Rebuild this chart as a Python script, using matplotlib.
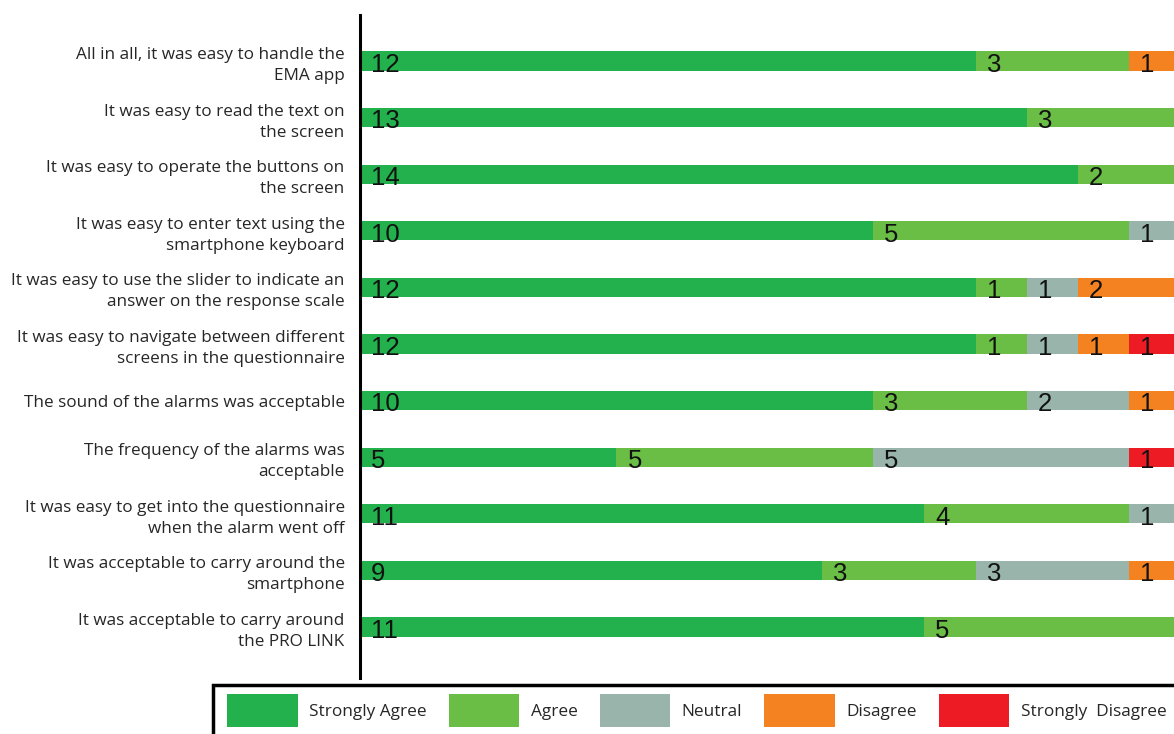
import numpy as np
import matplotlib.pyplot as plt
from matplotlib.patches import Patch, Rectangle

questions = [
    'All in all, it was easy to handle the\nEMA app',
    'It was easy to read the text on\nthe screen',
    'It was easy to operate the buttons on\nthe screen',
    'It was easy to enter text using the\nsmartphone keyboard',
    'It was easy to use the slider to indicate an\nanswer on the response scale',
    'It was easy to navigate between different\nscreens in the questionnaire',
    'The sound of the alarms was acceptable',
    'The frequency of the alarms was\nacceptable',
    'It was easy to get into the questionnaire\nwhen the alarm went off',
    'It was acceptable to carry around the\nsmartphone',
    'It was acceptable to carry around\nthe PRO LINK',
]

categories = ['Strongly Agree', 'Agree', 'Neutral', 'Disagree', 'Strongly  Disagree']
strongly_agree = [12, 13, 14, 10, 12, 12, 10, 5, 11, 9, 11]
agree = [3, 3, 2, 5, 1, 1, 3, 5, 4, 3, 5]
neutral = [0, 0, 0, 1, 1, 1, 2, 5, 1, 3, 0]
disagree = [1, 0, 0, 0, 2, 1, 1, 0, 0, 1, 0]
strongly_disagree = [0, 0, 0, 0, 0, 1, 0, 1, 0, 0, 0]

colors = ['#22b14c', '#6abd45', '#98b4ab', '#f58220', '#ed1c24']

series = [strongly_agree, agree, neutral, disagree, strongly_disagree]

fig = plt.figure(figsize=(11.74, 7.34), dpi=100)
ax = fig.add_axes([360 / 1174, 1 - 678 / 734, 1 - 360 / 1174, 663 / 734])

y = np.arange(len(questions))
left = np.zeros(len(questions))
for vals, col in zip(series, colors):
    vals = np.array(vals)
    ax.barh(y, vals, left=left, height=0.34, color=col, linewidth=0)
    for yi, l, v in zip(y, left, vals):
        if v > 0:
            ax.annotate(str(v), (l, yi), xytext=(8, -7.8), textcoords='offset points',
                        va='baseline', ha='left', fontsize=18.5,
                        family='Liberation Sans', color='#111111')
    left = left + vals

ax.set_xlim(0, 15.87)
ax.set_ylim(10.9, -0.813)
ax.set_yticks(y)
ax.set_yticklabels(questions, family='Open Sans', fontsize=12.3, color='#262626',
                   linespacing=1.42)
ax.tick_params(axis='y', length=0, pad=11)
ax.set_xticks([])
for s in ['top', 'right', 'bottom']:
    ax.spines[s].set_visible(False)
ax.spines['left'].set_linewidth(2.2)
ax.spines['left'].set_color('black')

handles = [Patch(facecolor=c, edgecolor='none') for c in colors]
fig.legend(handles, categories, loc='upper left', bbox_to_anchor=(227 / 1174, 1 - 694 / 734),
           ncol=5, frameon=False, borderpad=0, borderaxespad=0,
           handlelength=4.1, handleheight=2.55, handletextpad=0.66, columnspacing=1.28,
           prop={'family': 'Open Sans', 'size': 12.4}, labelcolor='#262626')

# box round the legend, runs off the bottom and right edge like in the source image
fig.add_artist(Rectangle((213 / 1174, -0.05), 1.0, 0.05 + 49 / 734,
                         transform=fig.transFigure, fill=False, lw=2.5, ec='black'))

fig.savefig('out.png', dpi=100)
